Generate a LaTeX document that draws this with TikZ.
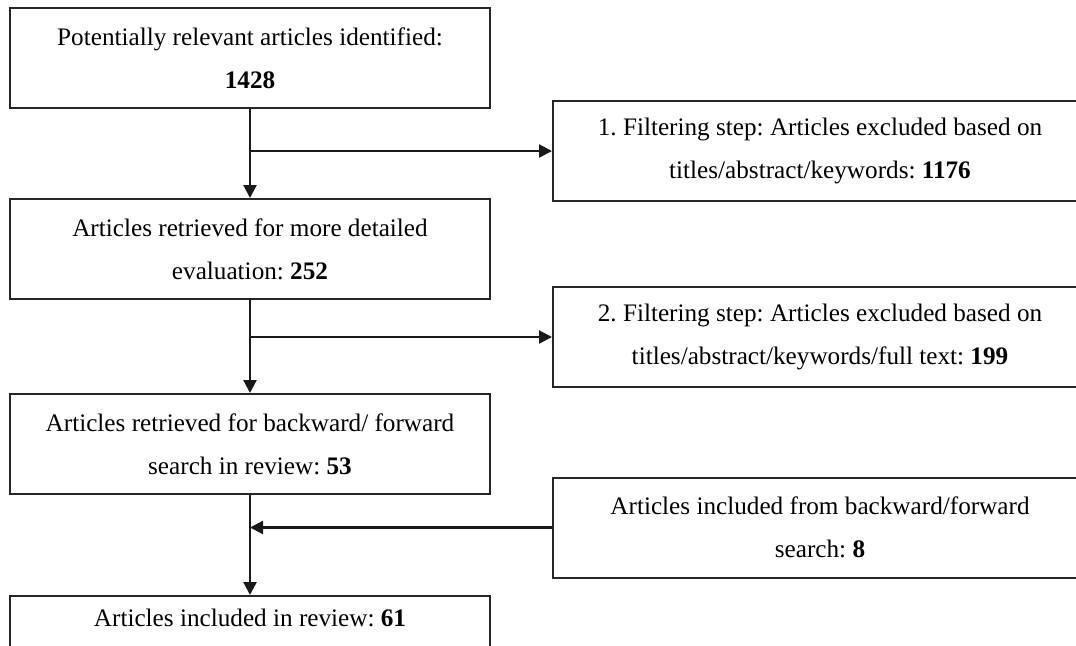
\documentclass[tikz,border=0pt]{standalone}
\usepackage{fontspec}
\setmainfont{Liberation Serif}
\frenchspacing
\usetikzlibrary{arrows.meta,positioning}

\begin{document}
\begin{tikzpicture}[x=0.5pt,y=-0.5pt]

\tikzset{stage/.style={draw=black!85,line width=1pt,inner sep=0pt,minimum width=240pt,minimum height=50pt,shape=rectangle,align=center,font=\fontsize{12.6}{21.7}\selectfont},
excluded/.style={stage,minimum width=267pt},
transitions/.style={-{Triangle[length=6.5pt,width=6.5pt]},line width=1.1pt,black!90}}

\useasboundingbox (0,0) rectangle (1076,645);

% Review stages
\node (b1) [stage] at (250,58) {Potentially relevant articles identified:\\ \textbf{1428}};
\node (b2) [below=44.5pt of b1,stage] {Articles retrieved for more detailed\\ evaluation: \textbf{252}};
\node (b3) [below=46.5pt of b2,stage] {Articles retrieved for backward/ forward\\ search in review: \textbf{53}};
\node (b4) [below=50pt of b3,stage] {Articles included in review: \textbf{61}\\ \strut};

% Excluded and added articles
\node (r1) [excluded] at (820,151) {1. Filtering step: Articles excluded based on\\ titles/abstract/keywords: \textbf{1176}};
\node (r2) [excluded] at (820,337) {2. Filtering step: Articles excluded based on\\ titles/abstract/keywords/full text: \textbf{199}};
\node (r3) [excluded] at (820,527.5) {Articles included from backward/forward\\ search: \textbf{8}};

% Arrows between stages
\draw [transitions] (b1) -- (b2);
\draw [transitions] (b2) -- (b3);
\draw [transitions] (b3) -- (b4);

% Arrows to and from the side boxes
\draw [transitions] (b1.south |- r1.west) -- (r1.west);
\draw [transitions] (b2.south |- r2.west) -- (r2.west);
\draw [transitions] (r3.west) -- (b3.south |- r3.west);

\end{tikzpicture}
\end{document}
